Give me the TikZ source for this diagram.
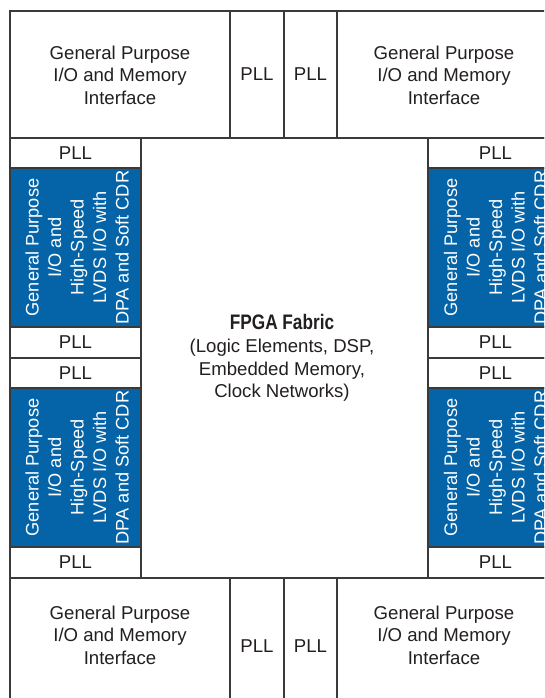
\documentclass[tikz,border=0pt]{standalone}
\usepackage{graphicx}
\usepackage{fontspec}
\setmainfont{Liberation Sans}
\definecolor{lc}{HTML}{3A3A3A}
\definecolor{txt}{HTML}{231F20}
\definecolor{altblue}{HTML}{0563A8}
\begin{document}
\begin{tikzpicture}[x=1pt,y=-1pt,
  box/.style={draw=lc, line width=1.6pt, anchor=north west, inner sep=0pt, outer sep=0pt},
  bluebox/.style={box, fill=altblue},
  lbl/.style={text=txt, font=\fontsize{18.6}{22.5}\selectfont, align=center, inner sep=0pt},
  vlbl/.style={text=white, font=\fontsize{18.2}{22.5}\selectfont, align=center, rotate=90, inner sep=0pt}]
\useasboundingbox (0,0) rectangle (544,698);
\clip (0,0) rectangle (544,698);
\fill[white] (0,0) rectangle (544,698);
% top row
\node[box, minimum width=220pt, minimum height=127pt] (tl) at (10,11) {};
\node[box, minimum width=54pt, minimum height=127pt] (tp1) at (230,11) {};
\node[box, minimum width=53pt, minimum height=127pt] (tp2) at (284,11) {};
\node[box, minimum width=223pt, minimum height=127pt] (tr) at (337,11) {};
% fabric
\node[box, minimum width=287pt, minimum height=440pt] (fab) at (141,138) {};
% left column
\node[box, minimum width=131pt, minimum height=30pt] (lp1) at (10,138) {};
\node[bluebox, minimum width=131pt, minimum height=159pt] (lb1) at (10,168) {};
\node[box, minimum width=131pt, minimum height=31pt] (lp2) at (10,327) {};
\node[box, minimum width=131pt, minimum height=30pt] (lp3) at (10,358) {};
\node[bluebox, minimum width=131pt, minimum height=159pt] (lb2) at (10,388) {};
\node[box, minimum width=131pt, minimum height=31pt] (lp4) at (10,547) {};
% right column
\node[box, minimum width=132pt, minimum height=30pt] (rp1) at (428,138) {};
\node[bluebox, minimum width=132pt, minimum height=159pt] (rb1) at (428,168) {};
\node[box, minimum width=132pt, minimum height=31pt] (rp2) at (428,327) {};
\node[box, minimum width=132pt, minimum height=30pt] (rp3) at (428,358) {};
\node[bluebox, minimum width=132pt, minimum height=159pt] (rb2) at (428,388) {};
\node[box, minimum width=132pt, minimum height=31pt] (rp4) at (428,547) {};
% bottom row
\node[box, minimum width=220pt, minimum height=130pt] (bl) at (10,578) {};
\node[box, minimum width=54pt, minimum height=130pt] (bp1) at (230,578) {};
\node[box, minimum width=53pt, minimum height=130pt] (bp2) at (284,578) {};
\node[box, minimum width=223pt, minimum height=130pt] (br) at (337,578) {};
% labels
\node[lbl] (tlt) at (120,75) {General Purpose\\I/O and Memory\\Interface};
\node[lbl] (tp1t) at (257,74) {PLL};
\node[lbl] (tp2t) at (310.5,74) {PLL};
\node[lbl] (trt) at (444,75) {General Purpose\\I/O and Memory\\Interface};
\node[lbl] (lp1t) at (75.5,153) {PLL};
\node[lbl] (lp2t) at (75.5,342) {PLL};
\node[lbl] (lp3t) at (75.5,373) {PLL};
\node[lbl] (lp4t) at (75.5,562) {PLL};
\node[lbl] (rp1t) at (495.5,153) {PLL};
\node[lbl] (rp2t) at (495.5,342) {PLL};
\node[lbl] (rp3t) at (495.5,373) {PLL};
\node[lbl] (rp4t) at (495.5,562) {PLL};
\node[vlbl] (lb1t) at (77,247.5) {General Purpose\\I/O and\\High-Speed\\LVDS I/O with\\DPA and Soft CDR};
\node[vlbl] (lb2t) at (77,467.5) {General Purpose\\I/O and\\High-Speed\\LVDS I/O with\\DPA and Soft CDR};
\node[vlbl] (rb1t) at (495.5,247.5) {General Purpose\\I/O and\\High-Speed\\LVDS I/O with\\DPA and Soft CDR};
\node[vlbl] (rb2t) at (495.5,467.5) {General Purpose\\I/O and\\High-Speed\\LVDS I/O with\\DPA and Soft CDR};
\node[lbl, font=\fontsize{18.6}{22.7}\selectfont] (fabt) at (282,358) {{\fontsize{21}{22.7}\selectfont\bfseries\scalebox{0.82}[1]{FPGA Fabric}}\\(Logic Elements, DSP,\\Embedded Memory,\\Clock Networks)};
\node[lbl] (blt) at (120,635) {General Purpose\\I/O and Memory\\Interface};
\node[lbl] (bp1t) at (257,646.5) {PLL};
\node[lbl] (bp2t) at (310.5,646.5) {PLL};
\node[lbl] (brt) at (444,635) {General Purpose\\I/O and Memory\\Interface};
\end{tikzpicture}
\end{document}
